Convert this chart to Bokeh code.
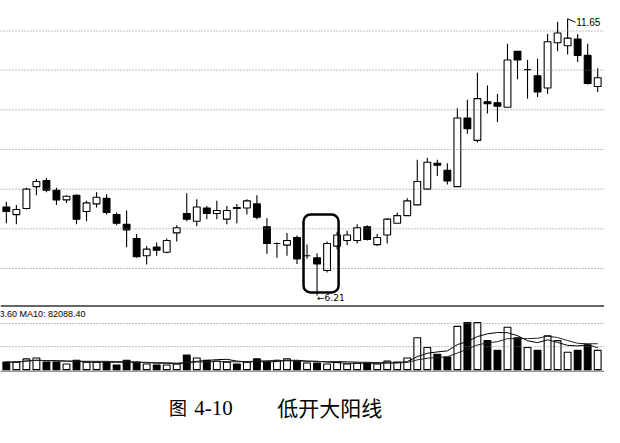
from bokeh.plotting import figure
from bokeh.models import Range1d, Span, BoxAnnotation, Label, ColumnDataSource
from bokeh.embed import file_html
from bokeh.resources import INLINE
import pandas as pd

# ---------------- data ----------------
opens = [7.95, 7.80, 7.92, 8.35, 8.47, 8.28, 8.09, 8.18, 7.86, 8.01,
         8.12, 7.80, 7.61, 7.33, 6.99, 7.16, 7.06, 7.44, 7.82, 7.67,
         7.93, 7.82, 7.71, 7.94, 7.93, 8.01, 7.56, 7.23, 7.20, 7.35,
         6.99, 6.95, 6.70, 7.18, 7.29, 7.29, 7.56, 7.21, 7.40, 7.63,
         7.78, 7.99, 8.30, 8.81, 8.67, 8.35, 9.70, 9.26, 10.02, 10.00,
         9.91, 11.01, 10.65, 10.53, 10.29, 11.18, 11.12, 11.25, 10.93, 10.32]
closes = [7.86, 7.90, 8.30, 8.45, 8.28, 8.09, 8.16, 7.71, 8.03, 8.14,
          7.84, 7.63, 7.50, 6.97, 7.12, 7.10, 7.29, 7.54, 7.71, 7.95,
          7.82, 7.88, 7.88, 7.92, 8.07, 7.75, 7.23, 7.23, 7.29, 6.93,
          6.99, 6.83, 7.23, 7.40, 7.40, 7.54, 7.31, 7.35, 7.71, 7.78,
          8.07, 8.45, 8.83, 8.77, 8.46, 9.70, 9.49, 10.08, 9.98, 9.93,
          10.84, 10.84, 10.65, 10.21, 11.20, 11.37, 11.27, 10.93, 10.38, 10.49]
highs = [8.05, 7.99, 8.33, 8.50, 8.52, 8.33, 8.18, 8.20, 8.07, 8.24,
         8.20, 7.84, 7.88, 7.42, 7.18, 7.25, 7.33, 7.59, 8.22, 8.10,
         7.97, 8.07, 7.97, 8.01, 8.10, 8.18, 7.73, 7.25, 7.44, 7.39,
         7.21, 7.04, 7.27, 7.46, 7.48, 7.61, 7.59, 7.42, 7.73, 7.84,
         8.12, 8.88, 8.92, 8.88, 8.81, 9.89, 10.06, 10.59, 10.34, 10.17,
         11.16, 11.01, 10.84, 10.87, 11.35, 11.59, 11.65, 11.35, 11.16, 10.68]
lows = [7.63, 7.61, 7.90, 8.18, 8.24, 7.99, 8.03, 7.61, 7.67, 7.94,
        7.80, 7.59, 7.16, 6.95, 6.82, 6.99, 7.04, 7.27, 7.67, 7.57,
        7.71, 7.71, 7.61, 7.63, 7.80, 7.71, 7.03, 6.95, 6.99, 6.83,
        6.93, 6.21, 6.66, 7.12, 7.20, 7.23, 7.29, 7.18, 7.23, 7.63,
        7.78, 7.99, 8.30, 8.56, 8.39, 8.35, 9.39, 9.22, 9.79, 9.62,
        9.91, 10.46, 10.08, 10.11, 10.17, 11.01, 10.95, 10.80, 10.36, 10.21]
volumes = [24000, 24000, 34000, 37000, 24000, 24000, 18000, 30000, 24000, 24000,
           24000, 15000, 30000, 24000, 18000, 15000, 15000, 18000, 46000, 37000,
           30000, 27000, 24000, 18000, 24000, 34000, 24000, 30000, 34000, 27000,
           21000, 21000, 18000, 24000, 18000, 21000, 21000, 18000, 27000, 24000,
           37000, 101000, 70000, 49000, 40000, 137000, 149000, 149000, 92000, 61000,
           134000, 101000, 70000, 61000, 107000, 92000, 55000, 61000, 79000, 61000]
price_grid = [6.74, 7.52, 8.30, 9.08, 9.86, 10.64, 11.41]
volume_grid = [73000, 146000]
volume_note = "3.60 MA10: 82088.40"
caption_fig = "图"
caption_num = "4-10"
caption_title = "低开大阳线"

# ---------------- derived ----------------
n = len(opens)
idx = list(range(n))
up = [c >= o for o, c in zip(opens, closes)]
body_top = [max(o, c) for o, c in zip(opens, closes)]
body_bot = [min(o, c) for o, c in zip(opens, closes)]
fill = ["white" if u else "black" for u in up]
ma5 = pd.Series(volumes).rolling(5, min_periods=1).mean().tolist()
ma10 = pd.Series(volumes).rolling(10, min_periods=1).mean().tolist()

src = ColumnDataSource(dict(x=idx, o=opens, c=closes, h=highs, l=lows,
                            bt=body_top, bb=body_bot, fill=fill,
                            v=volumes, ma5=ma5, ma10=ma10))

W, H = 604, 427
p = figure(width=W, height=H, x_range=Range1d(-0.583, 59.68),
           y_range=Range1d(3.613, 12.010), x_axis_type=None, y_axis_type=None,
           output_backend="svg", toolbar_location=None, min_border=0,
           outline_line_color=None, background_fill_color="white")
p.extra_y_ranges = {"vol": Range1d(-183000, 1168150), "px": Range1d(443, 0)}
p.extra_x_ranges = {"px": Range1d(0, 620)}

GRID = "#808080"
for g in price_grid:
    p.add_layout(Span(location=g, dimension="width", line_color=GRID,
                      line_dash="1 2", line_width=1))
for g in volume_grid:
    p.add_layout(Span(location=g, dimension="width", line_color=GRID,
                      line_dash="1 2", line_width=1, y_range_name="vol"))

# panel borders
p.add_layout(Span(location=317, dimension="width", line_color="#333",
                  line_width=1.5, y_range_name="px"))
p.add_layout(Span(location=384.5, dimension="width", line_color="#555",
                  line_width=1, y_range_name="px"))

# candles
p.segment(x0="x", y0="l", x1="x", y1="h", source=src, line_color="black", line_width=1.1)
p.vbar(x="x", width=0.68, top="bt", bottom="bb", source=src,
       fill_color="fill", line_color="black", line_width=1.1)

# volume
p.vbar(x="x", width=0.68, top="v", bottom=0, source=src, y_range_name="vol",
       fill_color="fill", line_color="black", line_width=1.1)
p.line(x="x", y="ma5", source=src, y_range_name="vol", line_color="black", line_width=1)
p.line(x="x", y="ma10", source=src, y_range_name="vol", line_color="#222", line_width=1)

# box around the low-open big yang candle
p.add_layout(BoxAnnotation(left=29.65, right=33.15, bottom=6.27, top=7.80,
                           fill_alpha=0, line_color="black", line_alpha=1.0,
                           line_width=2.5, border_radius=7))

# high / low marks
hi_i = max(idx, key=lambda i: highs[i])
lo_i = min(idx, key=lambda i: lows[i])
p.segment(x0=[hi_i], y0=[highs[hi_i]], x1=[hi_i + 0.8], y1=[highs[hi_i] - 0.07],
          line_color="black", line_width=1)
p.add_layout(Label(x=hi_i + 0.85, y=highs[hi_i] - 0.06, text=f"{highs[hi_i]:.2f}",
                   text_font="Liberation Sans", text_font_size="10px",
                   text_baseline="middle", text_align="left", text_color="black"))
p.add_layout(Label(x=lo_i, y=lows[lo_i] - 0.05, text="←" + f"{lows[lo_i]:.2f}",
                   text_font="DejaVu Sans", text_font_size="9px",
                   text_baseline="middle", text_align="left", text_color="black"))

# volume note
p.add_layout(Label(x=-1, y=325, x_range_name="px", y_range_name="px", text=volume_note,
                   text_font="Liberation Sans", text_font_size="9px",
                   text_baseline="middle", text_align="left", text_color="black"))

# caption
p.add_layout(Label(x=173, y=422, x_range_name="px", y_range_name="px", text=caption_fig,
                   text_font="Noto Sans CJK SC", text_font_size="18px",
                   text_baseline="middle", text_align="left", text_color="black"))
p.add_layout(Label(x=199, y=423, x_range_name="px", y_range_name="px", text=caption_num,
                   text_font="Liberation Serif", text_font_size="21px",
                   text_baseline="middle", text_align="left", text_color="black"))
p.add_layout(Label(x=284, y=422, x_range_name="px", y_range_name="px", text=caption_title,
                   text_font="Noto Sans CJK SC", text_font_size="21px",
                   text_baseline="middle", text_align="left", text_color="black"))

open("out.html", "w", encoding="utf-8").write(file_html(p, INLINE))
